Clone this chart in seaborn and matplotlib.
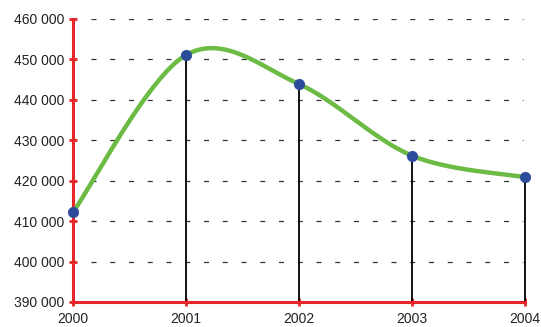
import numpy as np
import pandas as pd
import matplotlib
matplotlib.use("Agg")
import matplotlib.pyplot as plt
from matplotlib.ticker import FuncFormatter
import seaborn as sns

years = [2000, 2001, 2002, 2003, 2004]
values = [412200, 451100, 443900, 426200, 420900]
y_ticks = [390000, 400000, 410000, 420000, 430000, 440000, 450000, 460000]

GREEN = "#6cbb45"
BLUE = "#2b4c9b"
RED = "#e8262a"

sns.set_theme(style="white")
plt.rcParams["font.family"] = ["Liberation Sans", "DejaVu Sans"]


def smooth_curve(xs, ys, n=60):
    """Bezier smoothing through every point (control points at 1/6 of neighbour chords)."""
    px = np.asarray(xs, float)
    py = np.asarray(ys, float)
    ext_x = np.concatenate([[px[0]], px, [px[-1]]])
    ext_y = np.concatenate([[py[0]], py, [py[-1]]])
    out_x, out_y = [], []
    t = np.linspace(0, 1, n)
    for i in range(len(px) - 1):
        p0x, p0y = px[i], py[i]
        p3x, p3y = px[i + 1], py[i + 1]
        c1x = p0x + (ext_x[i + 2] - ext_x[i]) / 6
        c1y = p0y + (ext_y[i + 2] - ext_y[i]) / 6
        c2x = p3x - (ext_x[i + 3] - ext_x[i + 1]) / 6
        c2y = p3y - (ext_y[i + 3] - ext_y[i + 1]) / 6
        b0 = (1 - t) ** 3
        b1 = 3 * (1 - t) ** 2 * t
        b2 = 3 * (1 - t) * t ** 2
        b3 = t ** 3
        out_x.append(b0 * p0x + b1 * c1x + b2 * c2x + b3 * p3x)
        out_y.append(b0 * p0y + b1 * c1y + b2 * c2y + b3 * p3y)
    return np.concatenate(out_x), np.concatenate(out_y)


sx, sy = smooth_curve(years, values)
curve = pd.DataFrame({"year": sx, "value": sy})
points = pd.DataFrame({"year": years, "value": values})

fig = plt.figure(figsize=(5.41, 3.27), dpi=100)
ax = fig.add_axes([73 / 541, 1 - 302 / 327, 452 / 541, 283 / 327])

ax.set_xlim(2000, 2004)
ax.set_ylim(390000, 460000)

# dashed horizontal guides
for yv in y_ticks[1:]:
    ax.axhline(yv, color="#333333", lw=0.9, ls=(0, (4, 11)), xmin=0.04, xmax=0.995, zorder=1)

# drop lines from each point to the baseline
ax.vlines(years, 390000, values, color="black", lw=1.3, zorder=2, clip_on=False)

sns.lineplot(data=curve, x="year", y="value", color=GREEN, lw=3.2, sort=False,
             ax=ax, zorder=6, clip_on=False)
sns.scatterplot(data=points, x="year", y="value", color=BLUE, s=55, edgecolor=BLUE,
                ax=ax, zorder=7, clip_on=False)

ax.set_xticks(years)
ax.set_yticks(y_ticks)
ax.yaxis.set_major_formatter(FuncFormatter(lambda v, p: f"{int(v):,}".replace(",", " ")))
ax.set_xlabel("")
ax.set_ylabel("")

for side in ["top", "right"]:
    ax.spines[side].set_visible(False)
for side in ["left", "bottom"]:
    ax.spines[side].set_color(RED)
    ax.spines[side].set_linewidth(2.2)
    ax.spines[side].set_zorder(5)

ax.tick_params(axis="both", which="major", bottom=True, left=True, direction="inout",
               length=6, width=2, color=RED, labelsize=10, labelcolor="#222222")
ax.tick_params(axis="y", pad=3)
ax.tick_params(axis="x", pad=4)

fig.savefig("out.png", dpi=100)
